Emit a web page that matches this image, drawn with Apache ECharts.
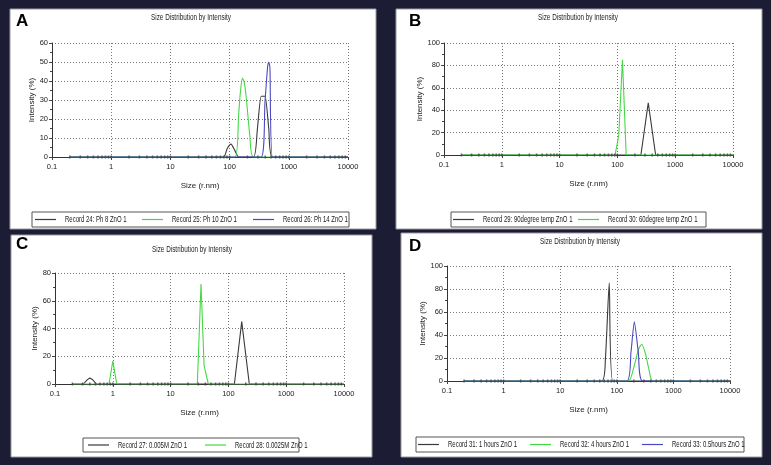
<!DOCTYPE html>
<html><head><meta charset="utf-8">
<script src="https://cdn.jsdelivr.net/npm/echarts@6/dist/echarts.min.js"></script>
<style>html,body{margin:0;padding:0;background:#1c1c34;}#c{width:771px;height:465px;}</style>
</head><body><div id="c"></div>
<script>
// ---------- data ----------
const xTickLabels = [0.1, 1, 10, 100, 1000, 10000];
const baseMarks = [0.2,0.3,0.4,0.5,0.6,0.7,0.8,0.9,1,2,3,4,5,6,7,8,9,10,20,30,40,50,60,70,80,90,100,200,300,400,500,600,700,800,900,1000,2000,3000,4000,5000,6000,7000,8000,9000];

const namesA = ['Record 24: Ph 8 ZnO 1', 'Record 25: Ph 10 ZnO 1', 'Record 26: Ph 14 ZnO 1'];
const a24 = [[0.2,0],[78.8,0],[91.3,4.5],[105.7,6.8],[122.4,3.5],[141.8,0],[255,0],[295.3,15],[342,32],[396.1,32],[458.7,15],[531.2,0],[10000,0]];
const a25 = [[0.2,0],[122.4,0],[141.8,22],[152,34],[164.2,41.5],[176,39.5],[190.1,32],[220.2,11],[255,0],[10000,0]];
const a26 = [[0.2,0],[342,0],[396.1,29],[440,48],[458.7,50],[480,47],[531.2,0],[10000,0]];

const namesB = ['Record 29: 90degree temp ZnO 1', 'Record 30: 60degree temp ZnO 1'];
const b29 = [[0.2,0],[255,0],[342,46.5],[458.7,0],[10000,0]];
const b30 = [[0.2,0],[91.3,0],[105.7,18],[122.4,85],[141.8,0],[10000,0]];

const namesC = ['Record 27: 0.005M ZnO 1', 'Record 28: 0.0025M ZnO 1'];
const c27 = [[0.2,0],[0.31,0],[0.36,3],[0.4,4.3],[0.45,3],[0.52,0],[127,0],[170,45],[230,0],[10000,0]];
const c28 = [[0.2,0],[0.86,0],[1.0,16.5],[1.17,0],[29,0],[33.6,72],[38,13],[45,0],[10000,0]];

const namesD = ['Record 31: 1 hours ZnO 1', 'Record 32: 4 hours ZnO 1', 'Record 33: 0.5hours ZnO 1'];
const d31 = [[0.2,0],[54,0],[63,20],[73.5,85.5],[85,0],[10000,0]];
const d32 = [[0.2,0],[160,0],[200,12],[240,27],[275,32],[320,24],[370,10],[430,0],[10000,0]];
const d33 = [[0.2,0],[150,0],[178,25],[204,51.5],[240,25],[287,0],[10000,0]];

const yMax = [60, 100, 80, 100];
const yStep = [10, 20, 20, 20];
const letters = ['A', 'B', 'C', 'D'];
const title = 'Size Distribution by Intensity';
const xName = 'Size (r.nm)';
const yName = 'Intensity (%)';

// ---------- styling / layout ----------
const FONT = "'Liberation Sans',Arial,sans-serif";
const BLACK = '#3a3a3a', GREEN = '#45d845', BLUE = '#4a4ac4';
const SQ = 0.63; // horizontal condensing of the instrument's narrow font
const panels = [
  {rect:[10,9,366,220], grid:{left:52,top:43,width:296,height:114}, letter:[16,13], title:[191,17],
   legendBox:[32,212,317,15], items:[35,142,253], names:namesA, data:[a24,a25,a26], colors:[BLACK,GREEN,BLUE]},
  {rect:[396,9,366,220], grid:{left:444,top:43,width:289,height:112}, letter:[409,13], title:[578,17],
   legendBox:[451,212,255,15], items:[453,578], names:namesB, data:[b29,b30], colors:[BLACK,GREEN]},
  {rect:[11,235,361,222], grid:{left:55,top:273,width:289,height:111}, letter:[16,236], title:[192,249],
   legendBox:[83,438,216,14], items:[88,205], names:namesC, data:[c27,c28], colors:[BLACK,GREEN]},
  {rect:[401,233,361,224], grid:{left:447,top:266,width:283,height:115}, letter:[409,238], title:[580,241],
   legendBox:[416,437,328,15], items:[418,530,642], names:namesD, data:[d31,d32,d33], colors:[BLACK,GREEN,BLUE]}
];

const grid = [], xAxis = [], yAxis = [], series = [], graphic = [];
panels.forEach((p, i) => {
  graphic.push({type:'rect', shape:{x:p.rect[0], y:p.rect[1], width:p.rect[2], height:p.rect[3]},
    style:{fill:'#ffffff', stroke:'#9a9aa0', lineWidth:1}, z:-10});
  graphic.push({type:'text', x:p.letter[0], y:p.letter[1], style:{text:letters[i], font:"bold 17px 'Liberation Sans',Arial,sans-serif", fill:'#000'}});
  graphic.push({type:'text', x:p.title[0], y:p.title[1], scaleX:0.67, style:{text:title, font:'9.5px ' + FONT, fill:'#222', textAlign:'center', textVerticalAlign:'middle'}});
  const lb = p.legendBox, my = lb[1] + lb[3] / 2;
  graphic.push({type:'rect', shape:{x:lb[0], y:lb[1], width:lb[2], height:lb[3]},
    style:{fill:'#fff', stroke:'#555', lineWidth:1}, z:-5});
  p.items.forEach((lx, k) => {
    graphic.push({type:'line', shape:{x1:lx, y1:my, x2:lx + 21, y2:my}, style:{stroke:p.colors[k], lineWidth:1.2}});
    graphic.push({type:'text', x:lx + 30, y:my, scaleX:SQ, style:{text:p.names[k], font:'9.5px ' + FONT, fill:'#1a1a1a', textVerticalAlign:'middle'}});
  });
  grid.push(p.grid);
  xAxis.push({type:'log', logBase:10, gridIndex:i, min:xTickLabels[0], max:xTickLabels[xTickLabels.length-1],
    name:xName, nameLocation:'middle', nameGap:25, nameTextStyle:{fontSize:8, fontFamily:FONT, color:'#222'},
    axisLine:{onZero:false, lineStyle:{color:'#333', width:1}},
    axisTick:{show:true, inside:false, length:3, lineStyle:{color:'#444'}},
    axisLabel:{fontSize:7.5, fontFamily:FONT, color:'#222', margin:6, formatter:v => (v < 1 ? v.toFixed(1) : String(Math.round(v)))},
    splitLine:{show:true, lineStyle:{color:'#777', type:[1,2], width:1}}});
  yAxis.push({type:'value', gridIndex:i, min:0, max:yMax[i], interval:yStep[i],
    name:yName, nameLocation:'middle', nameGap:14, nameTextStyle:{fontSize:8, fontFamily:FONT, color:'#222'},
    axisLine:{show:true, lineStyle:{color:'#333', width:1}},
    axisTick:{show:true, length:3, lineStyle:{color:'#444'}},
    minorTick:{show:true, splitNumber:2, length:2, lineStyle:{color:'#444'}},
    axisLabel:{fontSize:7.5, fontFamily:FONT, color:'#222', margin:4},
    splitLine:{show:true, lineStyle:{color:'#777', type:[1,2], width:1}}});
  p.data.forEach((d, k) => {
    series.push({type:'line', name:p.names[k], xAxisIndex:i, yAxisIndex:i, data:d, symbol:'none',
      smooth:(i === 0 || i === 3) ? 0.2 : false,
      lineStyle:{color:p.colors[k], width:1.1}, itemStyle:{color:p.colors[k]}, z:2, animation:false});
  });
  series.push({type:'scatter', name:'marks' + i, xAxisIndex:i, yAxisIndex:i, data:baseMarks.map(v => [v, 0]),
    symbol:'rect', symbolSize:[1.5,3], itemStyle:{color:'#444'}, silent:true, z:3, animation:false});
});

const chart = echarts.init(document.getElementById('c'), null, {renderer:'canvas'});
chart.setOption({backgroundColor:'#1c1c34', animation:false, grid, xAxis, yAxis, series, graphic});
</script></body></html>
